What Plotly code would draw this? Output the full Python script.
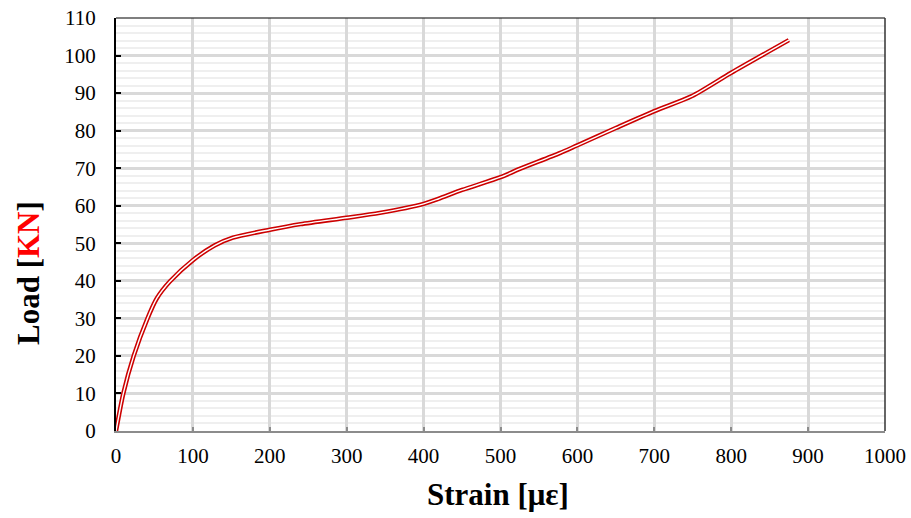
import plotly.graph_objects as go

strain = [0, 9.5, 23, 41, 53, 70, 100, 128, 152, 200, 240, 300, 343, 400, 419, 450, 500, 525, 577, 600, 650, 700, 749, 800, 875]
load = [0, 10, 20, 30, 35.3, 39.8, 45.5, 49.4, 51.5, 53.6, 55.1, 56.8, 58.1, 60.5, 61.8, 64.2, 67.6, 69.8, 74.0, 76.1, 80.7, 85.2, 89.2, 95.4, 104.1]

x_ticks = [0, 100, 200, 300, 400, 500, 600, 700, 800, 900, 1000]
y_ticks = [0, 10, 20, 30, 40, 50, 60, 70, 80, 90, 100, 110]

FONT = "Liberation Serif, Times New Roman, serif"

# plot area target: x 116..885, y 18..431 (page body margin removed below)
L, R, T, B = 116, 911 - 885, 18, 518 - 431
PW, PH = 885 - 116, 431 - 18

fig = go.Figure()
fig.add_trace(go.Scatter(x=strain, y=load, mode="lines",
                         line=dict(color="#cc0000", width=4.5, shape="spline", smoothing=0.7),
                         hoverinfo="skip", showlegend=False))
fig.add_trace(go.Scatter(x=strain, y=load, mode="lines",
                         line=dict(color="white", width=1.4, shape="spline", smoothing=0.7),
                         hoverinfo="skip", showlegend=False))

fig.update_layout(
    width=911, height=518,
    margin=dict(l=L, r=R, t=T, b=B),
    paper_bgcolor="white", plot_bgcolor="white",
    font=dict(family=FONT, size=21, color="black"),
    xaxis=dict(range=[0, 1000], tickvals=x_ticks, ticktext=[str(v) for v in x_ticks],
               showgrid=True, gridcolor="#d9d9d9", gridwidth=2.5,
               showline=True, linecolor="#8c8c8c", linewidth=2,
               ticks="inside", ticklen=4, tickcolor="#8c8c8c", tickwidth=1.5,
               ticklabelstandoff=5, zeroline=False, automargin=False,
               ticklabeloverflow="allow"),
    yaxis=dict(range=[0, 110], tickvals=y_ticks, ticktext=[str(v) for v in y_ticks],
               showgrid=True, gridcolor="#d9d9d9", gridwidth=2.5,
               minor=dict(dtick=2, showgrid=True, gridcolor="#efefef", gridwidth=1.5),
               showline=True, linecolor="black", linewidth=2,
               ticks="inside", ticklen=5, tickcolor="black", tickwidth=2,
               ticklabelstandoff=14, zeroline=False, automargin=False,
               ticklabeloverflow="allow"),
    shapes=[
        dict(type="line", xref="paper", yref="paper", x0=0, x1=1, y0=1, y1=1,
             line=dict(color="black", width=1.2)),
        dict(type="line", xref="paper", yref="paper", x0=1, x1=1, y0=0, y1=1,
             line=dict(color="#333333", width=1.5)),
    ],
    annotations=[
        dict(text="<b>Strain [με]</b>", xref="paper", yref="paper",
             x=(498 - 116) / PW, y=(431 - 494) / PH, xanchor="center", yanchor="middle",
             showarrow=False, font=dict(family=FONT, size=31, color="black")),
        dict(text="<b>Load [<span style='color:#ff0000'>KN</span>]</b>", xref="paper", yref="paper",
             x=(28 - 116) / PW, y=(431 - 273) / PH, xanchor="center", yanchor="middle",
             textangle=-90, showarrow=False, font=dict(family=FONT, size=31, color="black")),
    ],
)

fig.write_html("out.html", config={"displayModeBar": False},
               post_script="document.body.style.margin='0';")
